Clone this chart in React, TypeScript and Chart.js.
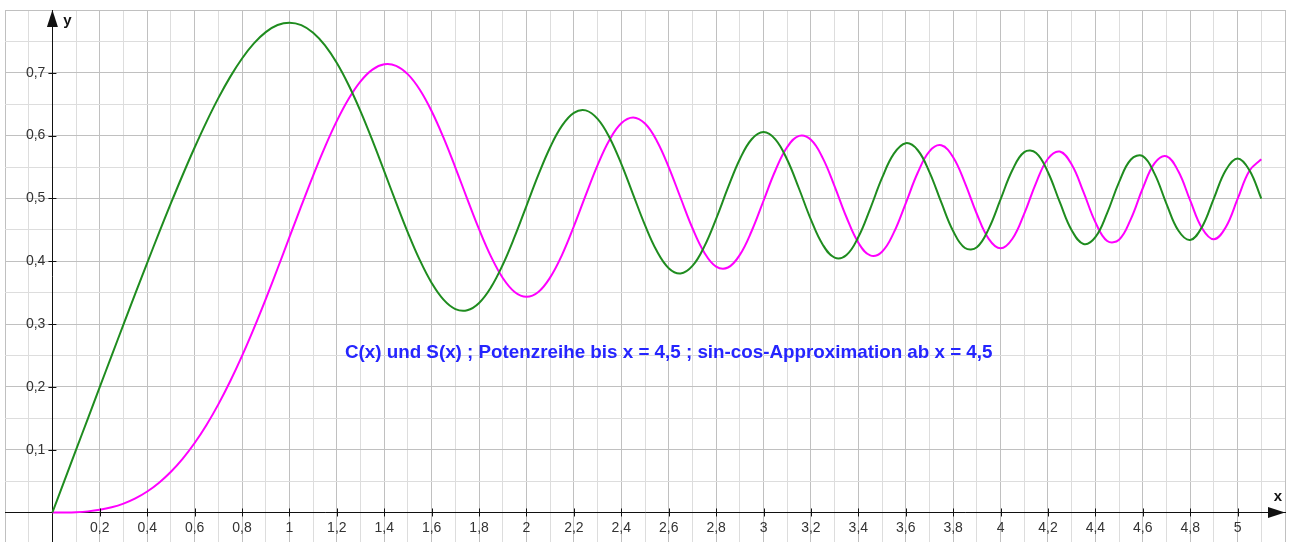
import React, { useEffect, useRef } from 'react';
import { Chart, registerables } from 'chart.js';

Chart.register(...registerables);

// x positions of the sampled points
const X_VALUES = [
  0, 0.05, 0.1, 0.15, 0.2, 0.25, 0.3, 0.35, 0.4, 0.45, 0.5, 0.55, 0.6, 0.65, 0.7, 0.75,
  0.8, 0.85, 0.9, 0.95, 1.0, 1.05, 1.1, 1.15, 1.2, 1.25, 1.3, 1.35, 1.4, 1.45, 1.5,
  1.55, 1.6, 1.65, 1.7, 1.75, 1.8, 1.85, 1.9, 1.95, 2.0, 2.05, 2.1, 2.15, 2.2, 2.25,
  2.3, 2.35, 2.4, 2.45, 2.5, 2.55, 2.6, 2.65, 2.7, 2.75, 2.8, 2.85, 2.9, 2.95, 3.0,
  3.05, 3.1, 3.15, 3.2, 3.25, 3.3, 3.35, 3.4, 3.45, 3.5, 3.55, 3.6, 3.65, 3.7, 3.75,
  3.8, 3.85, 3.9, 3.95, 4.0, 4.05, 4.1, 4.15, 4.2, 4.25, 4.3, 4.35, 4.4, 4.45, 4.5,
  4.55, 4.6, 4.65, 4.7, 4.75, 4.8, 4.85, 4.9, 4.95, 5.0, 5.05, 5.1,
];

// C(x) (green)
const C_VALUES = [
  0, 0.05, 0.09999, 0.14997, 0.19992, 0.24976, 0.2994, 0.34871, 0.39748, 0.44547,
  0.49234, 0.53771, 0.5811, 0.62195, 0.65965, 0.69352, 0.72284, 0.74685, 0.76482,
  0.77604, 0.77989, 0.77591, 0.76381, 0.74356, 0.71544, 0.68009, 0.63855, 0.59227,
  0.5431, 0.49326, 0.44526,
  0.40177, 0.36546, 0.3388, 0.32383, 0.32194, 0.33363, 0.35837, 0.39447, 0.43905,
  0.48825, 0.53733, 0.58156, 0.61587, 0.63629, 0.64018, 0.62656, 0.59701, 0.55496,
  0.50614, 0.45741, 0.41614, 0.38894, 0.38045, 0.39249, 0.42326, 0.46749, 0.51706,
  0.56238, 0.59422, 0.60572, 0.59408, 0.56159, 0.51541, 0.46632, 0.42634, 0.40569,
  0.41002, 0.43849, 0.48354, 0.53257, 0.57131, 0.58795, 0.57712, 0.54195, 0.49359,
  0.4481, 0.42111, 0.42233, 0.45161, 0.49842, 0.54517, 0.57369, 0.57247, 0.54172,
  0.49398, 0.44944, 0.42758, 0.43833, 0.47709, 0.52602, 0.56194, 0.56724, 0.53906,
  0.49143, 0.44883, 0.4338, 0.45464, 0.50016, 0.54504, 0.56363, 0.54493, 0.49978,
];

// S(x) (magenta)
const S_VALUES = [
  0, 0.00007, 0.00052, 0.00176, 0.00419, 0.00818, 0.01412, 0.02239, 0.03336, 0.04737,
  0.06473, 0.08572, 0.11054, 0.13934, 0.17214, 0.20889, 0.24934, 0.29316, 0.33978,
  0.38846, 0.43826, 0.48805, 0.5365, 0.58214, 0.6234, 0.65866, 0.68633, 0.70501,
  0.71353, 0.71111, 0.6975,
  0.67307, 0.63889, 0.59675, 0.5492, 0.49939, 0.45094, 0.40769, 0.37335, 0.35115,
  0.34342, 0.35106, 0.37427, 0.41016, 0.4557, 0.50526, 0.55315, 0.59312, 0.61969,
  0.62896, 0.61918, 0.59155, 0.54999, 0.50108, 0.45292, 0.41399, 0.39153, 0.39003,
  0.41014, 0.44812, 0.49631, 0.54447, 0.58181, 0.59961, 0.59335, 0.56422, 0.51929,
  0.47004, 0.42965, 0.40938, 0.41525, 0.44587, 0.49231, 0.54044, 0.57498, 0.58454,
  0.56562, 0.52442, 0.47521, 0.43567, 0.42052, 0.43577, 0.4758, 0.52491, 0.5632,
  0.5746, 0.554, 0.5101, 0.46227, 0.43229, 0.43427, 0.46755, 0.51619, 0.55617,
  0.56715, 0.54322, 0.49675, 0.45261, 0.43507, 0.45414, 0.49919, 0.54417, 0.56239,
];

const X_MIN = -0.2;
const X_MAX = 5.2;
const Y_MIN = -0.047;
const Y_MAX = 0.8;
const X_LABEL_MAX = 5;
const Y_LABEL_MAX = 0.7;
const TITLE = 'C(x) und S(x) ; Potenzreihe bis x = 4,5 ; sin-cos-Approximation ab x = 4,5';
const TITLE_POS = { x: 2.6, y: 0.254 };

const GREEN = '#1f8c1f';
const MAGENTA = '#ff00ff';
const GRID_MAJOR = '#c0c0c0';
const GRID_MINOR = '#dddddd';
const AXIS = '#111111';
const TICK_TEXT = '#333333';
const FONT = "'Liberation Sans', Arial, sans-serif";

const fmtDe = (v: number) => {
  const s = String(Math.round(v * 10) / 10);
  return s.replace('.', ',');
};
const xMajor = (v: number) => Math.round(v * 10) % 2 === 0;
const yMajor = (v: number) => Math.round(v * 100) % 10 === 0;

const decorPlugin = {
  id: 'decor',
  afterDatasetsDraw(chart: any) {
    const { ctx, chartArea, scales } = chart;
    const xs = scales.x;
    const ys = scales.y;
    const x0 = xs.getPixelForValue(0);
    const y0 = ys.getPixelForValue(0);
    ctx.save();
    // tick marks crossing the axes
    ctx.strokeStyle = AXIS;
    ctx.lineWidth = 1;
    ctx.beginPath();
    for (const t of xs.ticks) {
      const v = t.value;
      if (v <= 0 || v > X_LABEL_MAX + 1e-9 || !xMajor(v)) continue;
      const px = Math.round(xs.getPixelForValue(v)) + 0.5;
      ctx.moveTo(px, y0 - 4);
      ctx.lineTo(px, y0 + 4);
    }
    for (const t of ys.ticks) {
      const v = t.value;
      if (v <= 0 || v > Y_LABEL_MAX + 1e-9 || !yMajor(v)) continue;
      const py = Math.round(ys.getPixelForValue(v)) + 0.5;
      ctx.moveTo(x0 - 4, py);
      ctx.lineTo(x0 + 4, py);
    }
    ctx.stroke();
    // arrows
    ctx.fillStyle = AXIS;
    ctx.beginPath();
    ctx.moveTo(chartArea.right, y0);
    ctx.lineTo(chartArea.right - 17, y0 - 5.5);
    ctx.lineTo(chartArea.right - 17, y0 + 5.5);
    ctx.closePath();
    ctx.fill();
    ctx.beginPath();
    ctx.moveTo(x0, chartArea.top);
    ctx.lineTo(x0 - 5.5, chartArea.top + 17);
    ctx.lineTo(x0 + 5.5, chartArea.top + 17);
    ctx.closePath();
    ctx.fill();
    // axis names
    ctx.font = `bold 15px ${FONT}`;
    ctx.textAlign = 'center';
    ctx.textBaseline = 'middle';
    ctx.fillText('x', chartArea.right - 7, y0 - 16);
    ctx.fillText('y', x0 + 15, chartArea.top + 11);
    // caption
    const targetW = 648;
    ctx.font = `bold 16px ${FONT}`;
    const w = ctx.measureText(TITLE).width;
    const size = (16 * targetW) / w;
    ctx.font = `bold ${size.toFixed(2)}px ${FONT}`;
    ctx.fillStyle = '#2525ff';
    ctx.fillText(TITLE, xs.getPixelForValue(TITLE_POS.x), ys.getPixelForValue(TITLE_POS.y));
    ctx.restore();
  },
};

const zeroPad = (s: any) => {
  s.paddingLeft = 0;
  s.paddingRight = 0;
  s.paddingTop = 0;
  s.paddingBottom = 0;
};

export default function App() {
  const ref = useRef<HTMLCanvasElement | null>(null);

  useEffect(() => {
    document.body.style.margin = '0';
    document.documentElement.style.overflow = 'hidden';
    const canvas = ref.current;
    if (!canvas) return;
    const toPts = (ys: number[]) => X_VALUES.map((x, i) => ({ x, y: ys[i] }));
    const chart = new Chart(canvas, {
      type: 'line',
      data: {
        datasets: [
          {
            label: 'C(x)',
            data: toPts(C_VALUES),
            borderColor: GREEN,
            borderWidth: 2,
            pointRadius: 0,
            tension: 0.4,
            fill: false,
          },
          {
            label: 'S(x)',
            data: toPts(S_VALUES),
            borderColor: MAGENTA,
            borderWidth: 2,
            pointRadius: 0,
            tension: 0.4,
            fill: false,
          },
        ],
      },
      options: {
        animation: false,
        responsive: false,
        maintainAspectRatio: false,
        devicePixelRatio: 1,
        layout: { padding: { left: 5, right: 4, top: 10, bottom: 0 } },
        plugins: {
          legend: { display: false },
          tooltip: { enabled: false },
          title: { display: false },
        },
        scales: {
          x: {
            type: 'linear',
            min: X_MIN,
            max: X_MAX,
            position: { y: 0 } as any,
            afterFit: zeroPad,
            ticks: {
              stepSize: 0.1,
              autoSkip: false,
              maxRotation: 0,
              includeBounds: false,
              padding: 7,
              color: TICK_TEXT,
              font: { family: FONT, size: 14 },
              callback: (v: any) => {
                const n = Number(v);
                if (n <= 0 || n > X_LABEL_MAX + 1e-9 || !xMajor(n)) return '';
                return fmtDe(n);
              },
            },
            grid: {
              drawTicks: false,
              lineWidth: 1,
              color: (c: any) => (xMajor(c.tick.value) ? GRID_MAJOR : GRID_MINOR),
            },
            border: { display: true, color: AXIS, width: 1 },
          },
          y: {
            type: 'linear',
            min: Y_MIN,
            max: Y_MAX,
            position: { x: 0 } as any,
            afterFit: zeroPad,
            ticks: {
              stepSize: 0.05,
              autoSkip: false,
              includeBounds: false,
              padding: 0,
              color: TICK_TEXT,
              font: { family: FONT, size: 14 },
              callback: (v: any) => {
                const n = Number(v);
                if (n <= 0 || n > Y_LABEL_MAX + 1e-9 || !yMajor(n)) return '';
                // en space keeps the label clear of the axis
                return fmtDe(n) + '\u2002';
              },
            },
            grid: {
              drawTicks: false,
              lineWidth: 1,
              color: (c: any) => (yMajor(c.tick.value) ? GRID_MAJOR : GRID_MINOR),
            },
            border: { display: true, color: AXIS, width: 1 },
          },
        },
      },
      plugins: [decorPlugin],
    });
    return () => chart.destroy();
  }, []);

  return (
    <div style={{ width: 1289, height: 542, background: '#ffffff' }}>
      <canvas ref={ref} width={1289} height={542} style={{ display: 'block', width: 1289, height: 542 }} />
    </div>
  );
}
